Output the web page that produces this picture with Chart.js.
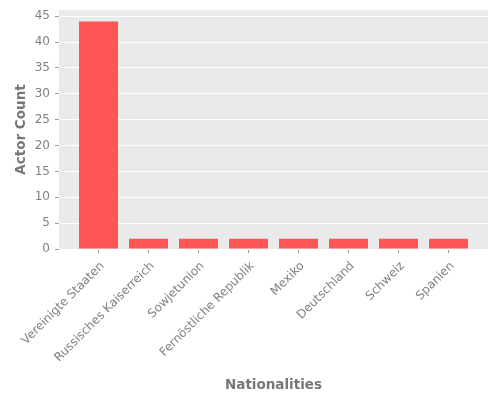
<!DOCTYPE html>
<html>
<head>
<meta charset="utf-8">
<script src="https://cdn.jsdelivr.net/npm/chart.js@4"></script>
<style>
html,body{margin:0;padding:0;background:#fff;}
canvas{display:block;}
</style>
</head>
<body>
<canvas id="c" width="500" height="400"></canvas>
<script>
const categories = ["Vereinigte Staaten","Russisches Kaiserreich","Sowjetunion","Fernöstliche Republik","Mexiko","Deutschland","Schweiz","Spanien"];
const counts = [44, 2, 2, 2, 2, 2, 2, 2];
const yTicks = [0, 5, 10, 15, 20, 25, 30, 35, 40, 45];

const bgPlugin = {
  id: 'bg',
  beforeDraw(chart) {
    const {ctx, chartArea: a} = chart;
    ctx.save();
    ctx.fillStyle = '#EAEAEA';
    ctx.fillRect(a.left, a.top, a.right - a.left, a.bottom - a.top);
    ctx.restore();
  }
};

Chart.defaults.font.family = "'DejaVu Sans', sans-serif";

new Chart(document.getElementById('c'), {
  type: 'bar',
  data: {
    datasets: [{
      data: counts.map((v, i) => ({x: i, y: v})),
      backgroundColor: '#FF5555',
      borderWidth: 0,
      barPercentage: 0.78,
      categoryPercentage: 1.0
    }]
  },
  options: {
    responsive: false,
    animation: false,
    layout: {padding: {top: 10, right: 12, left: 0, bottom: 0}},
    plugins: {legend: {display: false}, tooltip: {enabled: false}},
    scales: {
      x: {
        type: 'linear',
        min: -0.79,
        max: 7.79,
        offset: false,
        afterBuildTicks(scale) { scale.ticks = categories.map((_, i) => ({value: i})); },
        afterFit(scale) { scale.height = 151; },
        ticks: {
          callback: (v) => categories[v],
          maxRotation: 45,
          minRotation: 45,
          autoSkip: false,
          color: '#7f7f7f',
          padding: 6,
          labelOffset: 4,
          font: {size: 12}
        },
        grid: {offset: false, drawOnChartArea: false, drawTicks: true, tickLength: 4, tickColor: '#999'},
        border: {display: false},
        title: {
          display: true,
          text: 'Nationalities',
          color: '#777',
          font: {size: 13.5, weight: 'bold'},
          padding: {top: 0, bottom: 6}
        }
      },
      y: {
        min: 0,
        max: 46.2,
        afterBuildTicks(scale) { scale.ticks = yTicks.map(v => ({value: v})); },
        afterFit(scale) { scale.width = 59; scale.paddingTop = 0; scale.paddingBottom = 0; },
        ticks: {color: '#7f7f7f', padding: 5, font: {size: 12}},
        grid: {color: '#FFFFFF', lineWidth: 1, drawTicks: true, tickLength: 4, tickColor: '#999'},
        border: {display: false},
        title: {
          display: true,
          text: 'Actor Count',
          color: '#777',
          font: {size: 13.5, weight: 'bold'},
          padding: {top: 13, bottom: 0}
        }
      }
    }
  },
  plugins: [bgPlugin]
});
</script>
</body>
</html>
